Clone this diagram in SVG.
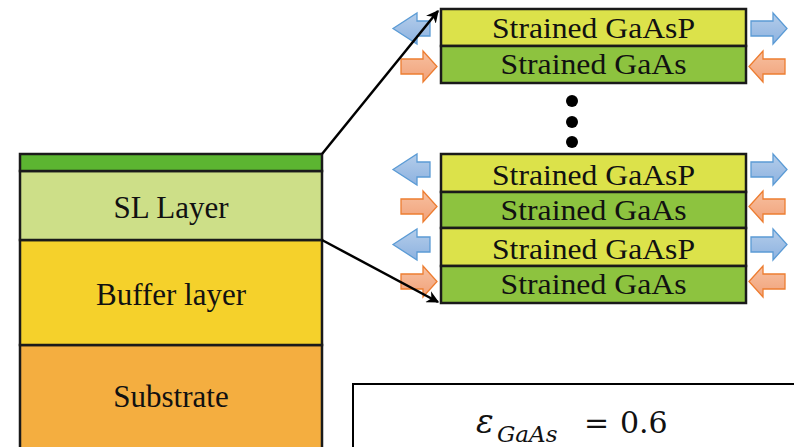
<svg xmlns="http://www.w3.org/2000/svg" xmlns:xlink="http://www.w3.org/1999/xlink" width="794" height="447" viewBox="0 0 794 447">
<style>
.lay{stroke:#1a1a1a;stroke-width:2.5}
.t{font-family:"Liberation Serif","Times New Roman",serif;fill:#111;text-anchor:middle}
.tl{font-size:31px}
.tr{font-size:29px}
.bl{fill:url(#gb);stroke:#5b9bd5;stroke-width:1.3}
.or{fill:url(#go);stroke:#ed7d31;stroke-width:1.3}
.conn{stroke:#000;stroke-width:2.5;fill:none;marker-end:url(#ah)}
</style>
<defs>
<linearGradient id="gb" x1="0" y1="0" x2="0" y2="1"><stop offset="0" stop-color="#b4cdea"/><stop offset="1" stop-color="#8db2e0"/></linearGradient>
<linearGradient id="go" x1="0" y1="0" x2="0" y2="1"><stop offset="0" stop-color="#f7c0a0"/><stop offset="1" stop-color="#f1a27a"/></linearGradient>
<marker id="ah" viewBox="0 0 10 10" refX="9" refY="5" markerWidth="5" markerHeight="5" orient="auto" markerUnits="strokeWidth"><path d="M0,0 L10,5 L0,10 L3,5 Z" fill="#000"/></marker>
<polygon id="bL" class="bl" points="0,15.5 24,0 24,8 37,8 37,23 24,23 24,31"/>
<polygon id="bR" class="bl" points="0,8 22,8 22,0 36,15.5 22,31 22,23 0,23"/>
<polygon id="oR" class="or" points="0,8 22,8 22,0 36,15.5 22,31 22,23 0,23"/>
<polygon id="oL" class="or" points="0,15.5 14,0 14,8 36,8 36,23 14,23 14,31"/>
</defs>
<rect width="794" height="447" fill="#fff"/>

<g id="substrate"><rect class="lay" x="20" y="345" width="302" height="110" fill="#f4ae40"/><text class="t tl" x="171" y="407">Substrate</text></g>
<g id="buffer"><rect class="lay" x="20" y="240" width="302" height="105" fill="#f5d12b"/><text class="t tl" x="171" y="305">Buffer layer</text></g>
<g id="sl-layer"><rect class="lay" x="20" y="171" width="302" height="69" fill="#cddf88"/><text class="t tl" x="171" y="218">SL Layer</text></g>
<g id="top-layer"><rect class="lay" x="20" y="154" width="302" height="17" fill="#5cb531"/></g>

<g id="arrows">
<use xlink:href="#bL" x="393" y="13"/><use xlink:href="#oR" x="401" y="51"/>
<use xlink:href="#bR" x="751" y="13"/><use xlink:href="#oL" x="749" y="51"/>
<use xlink:href="#bL" x="393" y="154"/><use xlink:href="#oR" x="401" y="191"/>
<use xlink:href="#bR" x="751" y="154"/><use xlink:href="#oL" x="749" y="191"/>
<use xlink:href="#bL" x="393" y="229"/><use xlink:href="#oR" x="401" y="266"/>
<use xlink:href="#bR" x="751" y="229"/><use xlink:href="#oL" x="749" y="266"/>
</g>

<g id="stack-top">
<rect class="lay" x="441" y="9" width="305" height="37" fill="#dce24a"/>
<text class="t tr" x="593.5" y="38" textLength="203" lengthAdjust="spacingAndGlyphs">Strained GaAsP</text>
<rect class="lay" x="441" y="46" width="305" height="37" fill="#8dc33f"/>
<text class="t tr" x="593.5" y="74" textLength="186" lengthAdjust="spacingAndGlyphs">Strained GaAs</text>
</g>

<g id="dots" fill="#000"><circle cx="572" cy="101" r="6"/><circle cx="572" cy="122" r="6"/><circle cx="572" cy="142" r="6"/></g>

<g id="stack-bottom">
<rect class="lay" x="441" y="154" width="305" height="38" fill="#dce24a"/>
<text class="t tr" x="593.5" y="185" textLength="203" lengthAdjust="spacingAndGlyphs">Strained GaAsP</text>
<rect class="lay" x="441" y="192" width="305" height="36" fill="#8dc33f"/>
<text class="t tr" x="593.5" y="220" textLength="186" lengthAdjust="spacingAndGlyphs">Strained GaAs</text>
<rect class="lay" x="441" y="228" width="305" height="38" fill="#dce24a"/>
<text class="t tr" x="593.5" y="259" textLength="203" lengthAdjust="spacingAndGlyphs">Strained GaAsP</text>
<rect class="lay" x="441" y="266" width="305" height="37" fill="#8dc33f"/>
<text class="t tr" x="593.5" y="294" textLength="186" lengthAdjust="spacingAndGlyphs">Strained GaAs</text>
</g>

<g id="connectors">
<line class="conn" x1="322" y1="154" x2="438" y2="11"/>
<line class="conn" x1="322" y1="240" x2="438" y2="302"/>
</g>

<g id="equation">
<rect x="353" y="384" width="460" height="80" fill="#fff" stroke="#000" stroke-width="2"/>
<text font-family="'DejaVu Serif','Liberation Serif',serif" fill="#111" font-size="30"><tspan x="476" y="433" font-size="33" font-style="italic">ε</tspan><tspan x="497" y="442" font-size="23" font-style="italic">GaAs</tspan><tspan x="584" y="433">=</tspan><tspan x="620" y="433">0.6</tspan></text>
</g>
</svg>
